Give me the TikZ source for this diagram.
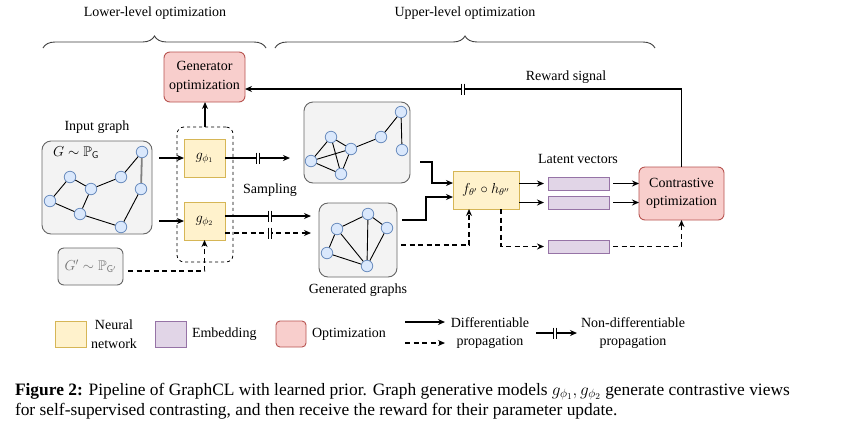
\documentclass[tikz,border=0pt]{standalone}
\usepackage{amssymb}
\usepackage{fontspec}
\setmainfont{Liberation Serif}
\usetikzlibrary{arrows.meta,decorations.pathreplacing,calc}

\definecolor{nnfill}{HTML}{FFF2CC}\definecolor{nnline}{HTML}{D6B656}
\definecolor{emfill}{HTML}{E1D5E7}\definecolor{emline}{HTML}{9673A6}
\definecolor{opfill}{HTML}{F8CECC}\definecolor{opline}{HTML}{B85450}
\definecolor{grfill}{HTML}{F3F3F3}\definecolor{grline}{HTML}{666666}
\definecolor{vxfill}{HTML}{DAE8FC}\definecolor{vxline}{HTML}{6C8EBF}

\tikzset{
  base/.style={inner sep=0pt, outer sep=0pt, align=center},
  nnbox/.style={base, draw=nnline, fill=nnfill, line width=0.9pt},
  embox/.style={base, draw=emline, fill=emfill, line width=0.9pt},
  opbox/.style={base, draw=opline, fill=opfill, line width=0.9pt, rounded corners=6pt},
  graphbox/.style={base, draw=grline, fill=grfill, line width=0.9pt, rounded corners=9pt},
  vx/.style={circle, draw=vxline, fill=vxfill, line width=0.8pt, minimum size=11.5pt, inner sep=0pt},
  gedge/.style={line width=0.9pt, black},
  arr/.style={-{Stealth[length=7pt,width=6pt]}, line width=1.4pt},
  darr/.style={arr, dash pattern=on 5pt off 3.5pt},
  ndmark/.style={fill=white, minimum width=4.6pt, minimum height=11pt, inner sep=0pt, outer sep=0pt,
    path picture={\draw[line width=1.3pt]
      ([xshift=-1.65pt]path picture bounding box.north) -- ([xshift=-1.65pt]path picture bounding box.south)
      ([xshift=1.65pt]path picture bounding box.north) -- ([xshift=1.65pt]path picture bounding box.south);}},
  bracedeco/.style={decorate, decoration={brace, amplitude=12pt}, line width=0.9pt, black!75},
}

\begin{document}
\begin{tikzpicture}[x=1pt, y=-1pt, font=\fontsize{14}{18.5}\selectfont]
\useasboundingbox (0,0) rectangle (864,432);
\fill[white] (0,0) rectangle (864,432);

% level braces and titles
\coordinate (lbL) at (43,48); \coordinate (lbR) at (266,48);
\coordinate (ubL) at (275,48); \coordinate (ubR) at (655,48);
\draw[bracedeco] (lbL) -- (lbR);
\draw[bracedeco] (ubL) -- (ubR);
\node[base] (lowtxt) at (155,13) {Lower-level optimization};
\node[base] (uptxt) at (465,13) {Upper-level optimization};

% main boxes
\node[opbox, minimum width=81pt, minimum height=50pt] (genopt) at (204.5,77) {Generator\\optimization};
\node[base, draw, dashed, line width=0.8pt, rounded corners=7pt, minimum width=56pt, minimum height=135pt] (gbox) at (205,194.5) {};
\node[nnbox, minimum width=41pt, minimum height=38pt] (g1) at (204.5,158) {$g_{\phi_1}$};
\node[nnbox, minimum width=41pt, minimum height=38pt] (g2) at (204.5,221) {$g_{\phi_2}$};
\node[graphbox, minimum width=110pt, minimum height=93pt] (input) at (97,187.5) {};
\node[graphbox, rounded corners=6pt, minimum width=65pt, minimum height=37pt, text=black!55] (gprime) at (90.5,266.5) {$G'\sim\mathbb{P}_{\mathsf{G}'}$};
\node[graphbox, minimum width=106pt, minimum height=81pt] (topgen) at (357,142.5) {};
\node[graphbox, minimum width=78pt, minimum height=74pt] (botgen) at (358,240) {};
\node[nnbox, minimum width=66pt, minimum height=38pt] (fbox) at (486,190) {$f_{\theta'}\circ h_{\theta''}$};
\node[embox, minimum width=61pt, minimum height=13pt] (lat1) at (578.5,183.5) {};
\node[embox, minimum width=61pt, minimum height=13pt] (lat2) at (578.5,202.5) {};
\node[embox, minimum width=61pt, minimum height=13pt] (lat3) at (578.5,246.5) {};
\node[opbox, minimum width=85pt, minimum height=53pt] (contr) at (681.5,193.5) {Contrastive\\optimization};

% labels
\node[base] (inlbl) at (97,127) {Input graph};
\node[base] (glbl) at (76,153) {$G\sim\mathbb{P}_{\mathsf{G}}$};
\node[base] (samp) at (270,190) {Sampling};
\node[base] (genlbl) at (358,290) {Generated graphs};
\node[base] (latlbl) at (578,159) {Latent vectors};
\node[base] (rwlbl) at (566,77) {Reward signal};

% input graph
\node[vx] (a1) at (142,152) {};
\node[vx] (a2) at (70,177) {};
\node[vx] (a3) at (121,177) {};
\node[vx] (a4) at (91,189) {};
\node[vx] (a5) at (141,189) {};
\node[vx] (a6) at (50,201) {};
\node[vx] (a7) at (80,214) {};
\node[vx] (a8) at (121,227) {};
\draw[gedge] (a1) -- (a3) (a2) -- (a4) (a4) -- (a3) (a2) -- (a6) (a4) -- (a7)
  (a6) -- (a7) (a7) -- (a8) (a5) -- (a8);
\draw[line width=1.8pt, black!50] (a1) -- (a5);

% first generated graph
\node[vx] (b1) at (401,112) {};
\node[vx] (b2) at (331,137) {};
\node[vx] (b3) at (351,149) {};
\node[vx] (b4) at (381,137) {};
\node[vx] (b5) at (402,150) {};
\node[vx] (b6) at (311,161) {};
\node[vx] (b7) at (341,174) {};
\draw[gedge] (b1) -- (b4) (b1) -- (b5) (b4) -- (b3) (b3) -- (b2) (b2) -- (b6)
  (b2) -- (b7) (b6) -- (b3) (b6) -- (b7) (b7) -- (b3);

% second generated graph
\node[vx] (c1) at (368,214) {};
\node[vx] (c2) at (337,229) {};
\node[vx] (c3) at (387,228) {};
\node[vx] (c4) at (327,253) {};
\node[vx] (c5) at (367,266) {};
\draw[gedge] (c2) -- (c1) (c1) -- (c3) (c1) -- (c5) (c3) -- (c5) (c2) -- (c5)
  (c2) -- (c4) (c4) -- (c5);

% connectors: lower level
\draw[arr] ($(input.east|-g1.west)+(7,0)$) -- (g1.west);
\draw[arr] ($(input.east|-g2.west)+(7,0)$) -- (g2.west);
\draw[arr] (gbox.north) -- (gbox.north|-genopt.south);
\coordinate (s1) at (290,158);
\coordinate (s2) at (311,216);
\coordinate (s3) at (311,233);
\draw[arr] (g1.east) -- (s1);
\draw[arr] (g1.east|-s2) -- (s2);
\draw[darr] (g2.east|-s3) -- (s3);
\coordinate (gp) at (204.5,271);
\draw[darr] ($(gprime.east)+(5,4.5)$) -- (gp) -- (g2.south);

% connectors: upper level
\coordinate (t1) at (420,162); \coordinate (t2) at (432,183);
\draw[arr] (t1) -| (t2) -- (fbox.west|-t2);
\coordinate (u1) at (402,220); \coordinate (u2) at (426,197);
\draw[arr] (u1) -| (u2) -- (fbox.west|-u2);
\coordinate (v1) at (401,245); \coordinate (v2) at (469,245);
\draw[darr] (v1) -- (v2) -- (v2|-fbox.south);
\coordinate (w1) at (544,183.5); \coordinate (w2) at (544,202.5);
\draw[arr] (fbox.east|-w1) -- (w1);
\draw[arr] (fbox.east|-w2) -- (w2);
\coordinate (w3) at (501,246.5); \coordinate (w4) at (544,246.5);
\draw[darr] (w3|-fbox.south) -- (w3) -- (w4);
\draw[arr] ($(lat1.east)+(4,0)$) -- (contr.west|-lat1);
\draw[arr] ($(lat2.east)+(4,0)$) -- (contr.west|-lat2);
\coordinate (x1) at (681.5,246.5);
\draw[darr] ($(lat3.east)+(4,0)$) -- (x1) -- (contr.south);
\coordinate (r1) at (681.5,89);
\draw[arr] (contr.north) -- (r1) -- (genopt.east|-r1);

% non-differentiable marks
\node[ndmark] (m1) at (258,158) {};
\node[ndmark] (m2) at (270,216) {};
\node[ndmark] (m3) at (270,233) {};
\node[ndmark] (m4) at (463,89) {};

% legend
\node[nnbox, minimum width=31pt, minimum height=26pt] (leg1) at (70.5,334) {};
\node[base] (leg1t) at (114,334) {Neural\\network};
\node[embox, minimum width=31pt, minimum height=26pt] (leg2) at (170.5,334) {};
\node[base, anchor=west] (leg2t) at (192,334) {Embedding};
\node[opbox, rounded corners=4pt, minimum width=30pt, minimum height=26pt] (leg3) at (291,334) {};
\node[base, anchor=west] (leg3t) at (312,334) {Optimization};
\coordinate (la1) at (405,322); \coordinate (la2) at (445,322);
\coordinate (lb1) at (405,343); \coordinate (lb2) at (445,343);
\draw[arr] (la1) -- (la2);
\draw[darr] (lb1) -- (lb2);
\node[base] (leg4t) at (490,333) {Differentiable\\propagation};
\coordinate (lc1) at (536,333); \coordinate (lc2) at (577,333);
\draw[arr] (lc1) -- (lc2);
\node[ndmark] (m5) at (555,333) {};
\node[base] (leg5t) at (633,333) {Non-differentiable\\propagation};

% caption
\node[base, anchor=west, align=left, font=\fontsize{17.4}{20}\selectfont] (cap) at (15,401)
  {\textbf{Figure 2:} Pipeline of GraphCL with learned prior. Graph generative models $g_{\phi_1}, g_{\phi_2}$ generate contrastive views\\
   for self-supervised contrasting, and then receive the reward for their parameter update.};
\end{tikzpicture}
\end{document}
